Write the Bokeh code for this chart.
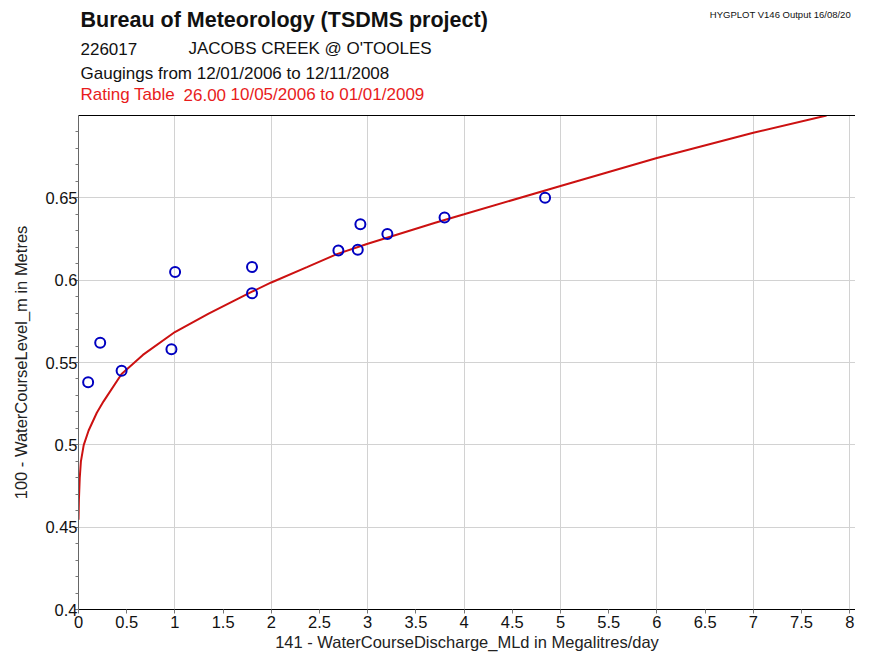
from bokeh.plotting import figure
from bokeh.layouts import column
from bokeh.models import Label, LinearAxis, FixedTicker, Range1d
from bokeh.embed import file_html
from bokeh.resources import INLINE

# ---- data ----
gauge_q = [0.10, 0.225, 0.447, 0.964, 1.002, 1.80, 1.80, 2.696, 2.897, 2.924, 3.204, 3.797, 4.84]
gauge_h = [0.538, 0.562, 0.545, 0.558, 0.605, 0.608, 0.592, 0.618, 0.6185, 0.634, 0.628, 0.638, 0.650]

rating_q = [0.0, 0.004, 0.013, 0.025, 0.054, 0.105, 0.19, 0.26, 0.447, 0.668, 1.0, 1.35,
            1.8, 2.0, 2.37, 2.68, 3.0, 3.7, 4.0, 5.0, 6.0, 7.0, 7.76]
rating_h = [0.4545, 0.466, 0.480, 0.490, 0.4998, 0.5087, 0.5195, 0.5264, 0.543, 0.5546, 0.5685, 0.5797,
            0.593, 0.5986, 0.6079, 0.6158, 0.6221, 0.6349, 0.6400, 0.6572, 0.6742, 0.6895, 0.700]

x_ticks = [0, 0.5, 1, 1.5, 2, 2.5, 3, 3.5, 4, 4.5, 5, 5.5, 6, 6.5, 7, 7.5, 8]
x_tick_labels = ["0", "0.5", "1", "1.5", "2", "2.5", "3", "3.5", "4", "4.5", "5", "5.5",
                 "6", "6.5", "7", "7.5", "8"]
x_grid = [1, 2, 3, 4, 5, 6, 7, 8]
y_ticks = [0.4, 0.45, 0.5, 0.55, 0.6, 0.65]
y_tick_labels = ["0.4", "0.45", "0.5", "0.55", "0.6", "0.65"]
y_minor = [round(0.4 + 0.01 * i, 2) for i in range(1, 30) if i % 5]

title_text = "Bureau of Meteorology (TSDMS project)"
station_id = "226017"
station_name = "JACOBS CREEK @ O'TOOLES"
gaugings_text = "Gaugings from 12/01/2006 to 12/11/2008"
rating_parts = ["Rating Table", "26.00", "10/05/2006 to 01/01/2009"]
corner_text = "HYGPLOT V146  Output 16/08/20"
x_label = "141 - WaterCourseDischarge_MLd in Megalitres/day"
y_label = "100 - WaterCourseLevel_m in Metres"

FONT = "Liberation Sans"
RED_TEXT = "#e81c1c"
CURVE = "#cc1111"
BLUE = "#0000c0"
W = 855
LEFT = 78
HEAD_H = 113
MAIN_H = 540

# ---------------- header (text block above the chart) ----------------
head = figure(width=W, height=HEAD_H, x_range=Range1d(LEFT, W), y_range=Range1d(HEAD_H, 0),
              output_backend="svg", toolbar_location=None, x_axis_type=None, y_axis_type=None,
              min_border_left=LEFT, min_border_right=0, min_border_top=0, min_border_bottom=0,
              outline_line_color=None,
              background_fill_color="white", border_fill_color="white")
head.grid.visible = False


def add_text(txt, x, baseline, size, color="#111111", style="normal", align="left"):
    head.add_layout(Label(x=x, y=baseline, text=txt, text_font=FONT, text_font_size=size,
                          text_color=color, text_font_style=style, text_align=align,
                          text_baseline="alphabetic"))


add_text(title_text, 80, 19, "21.5px", style="bold")
add_text(station_id, 80, 48, "17px")
add_text(station_name, 188, 48, "17px")
add_text(gaugings_text, 80, 73, "17px")
add_text(rating_parts[0], 80, 94, "17px", color=RED_TEXT)
add_text(rating_parts[1], 183, 94, "17px", color=RED_TEXT)
add_text(rating_parts[2], 230, 94, "17px", color=RED_TEXT)
add_text(corner_text, 853, 14, "9.5px", align="right")

# ---------------- main chart ----------------
p = figure(width=W, height=MAIN_H, x_range=Range1d(0, 8.06), y_range=Range1d(0.4, 0.7),
           output_backend="svg", toolbar_location=None,
           min_border_left=LEFT, min_border_right=0, min_border_top=2, min_border_bottom=41,
           background_fill_color="white", border_fill_color="white", outline_line_color=None)

p.xaxis.ticker = FixedTicker(ticks=x_ticks)
p.xaxis.major_label_overrides = dict(zip(x_ticks, x_tick_labels))
p.yaxis.ticker = FixedTicker(ticks=y_ticks, minor_ticks=y_minor)
p.yaxis.major_label_overrides = dict(zip(y_ticks, y_tick_labels))

for ax in (p.xaxis[0], p.yaxis[0]):
    ax.major_label_text_font = FONT
    ax.major_label_text_font_size = "16.5px"
    ax.major_label_text_color = "#111111"
    ax.axis_label_text_font = FONT
    ax.axis_label_text_font_size = "16.5px"
    ax.axis_label_text_font_style = "normal"
    ax.axis_label_text_color = "#222222"
    ax.major_tick_in = 0
    ax.major_tick_out = 4
    ax.minor_tick_in = 0
    ax.minor_tick_out = 3

p.xaxis.major_label_standoff = 2
p.yaxis.major_label_standoff = -3
p.xaxis.axis_label = x_label
p.yaxis.axis_label = y_label
p.xaxis.axis_label_standoff = 2
p.yaxis.axis_label_standoff = 12
p.xaxis.axis_line_color = "black"
p.xaxis.major_tick_line_color = "#777777"
p.xaxis.minor_tick_line_color = None
p.yaxis.axis_line_color = "#666666"
p.yaxis.major_tick_line_color = "#777777"
p.yaxis.minor_tick_line_color = "#777777"

top_axis = LinearAxis(ticker=FixedTicker(ticks=[]), axis_line_color="black",
                      major_tick_line_color=None, minor_tick_line_color=None,
                      major_label_text_font_size="0px")
p.add_layout(top_axis, "above")

p.xgrid.ticker = FixedTicker(ticks=x_grid)
p.ygrid.ticker = FixedTicker(ticks=y_ticks[1:])
p.grid.grid_line_color = "#d2d2d2"
p.grid.grid_line_width = 1

p.line(rating_q, rating_h, line_color=CURVE, line_width=2)
p.scatter(gauge_q, gauge_h, marker="circle", size=10, fill_color=None,
          line_color=BLUE, line_width=2)

layout = column(head, p, spacing=0)
open("out.html", "w").write(file_html(layout, INLINE))
